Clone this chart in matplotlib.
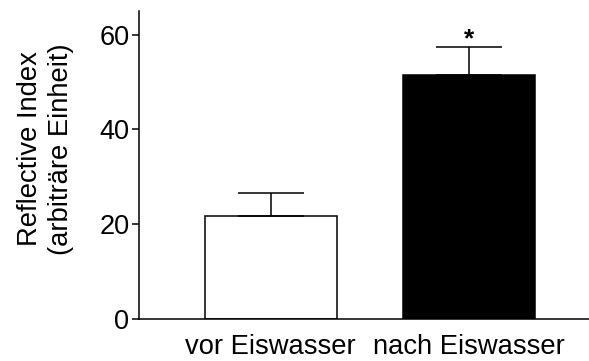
import matplotlib
matplotlib.use("Agg")
import matplotlib.pyplot as plt

plt.rcParams['font.family'] = ['Liberation Sans', 'DejaVu Sans']

categories = ["vor Eiswasser", "nach Eiswasser"]
means = [21.7, 51.4]
errors = [4.8, 6.1]
colors = ["white", "black"]
yticks = [0, 20, 40, 60]
significance = ["", "*"]

fig = plt.figure(figsize=(5.89, 3.61), dpi=100)
ax = fig.add_axes([0.236, 0.1163, 0.764, 0.8532])

x = list(range(len(categories)))
ax.bar(x, means, width=0.665, color=colors, edgecolor="black", linewidth=1.1, zorder=2)
ax.errorbar(x, means, yerr=[[0] * len(errors), errors], fmt="none", ecolor="black",
            elinewidth=1.1, capsize=23.8, capthick=1.1, zorder=3)
for xi, m, e, s in zip(x, means, errors, significance):
    if s:
        ax.text(xi, m + e - 1.0, s, ha="center", va="bottom", fontsize=19, fontweight="bold")

ax.set_xlim(-0.664, 1.604)
ax.set_ylim(0, 65)
ax.set_yticks(yticks)
ax.set_xticks(x)
ax.set_xticklabels(categories, fontsize=19.7)
ax.tick_params(axis="y", labelsize=19.5, length=5, width=1.1, pad=2)
ax.tick_params(axis="x", length=0, pad=11)
ax.set_ylabel("Reflective Index\n(arbiträre Einheit)", fontsize=19.7, linespacing=1.22)
ax.yaxis.set_label_coords(-0.145, 0.552)
for sp in ["top", "right"]:
    ax.spines[sp].set_visible(False)
for sp in ["left", "bottom"]:
    ax.spines[sp].set_linewidth(1.1)

fig.savefig("out.png", dpi=100)
